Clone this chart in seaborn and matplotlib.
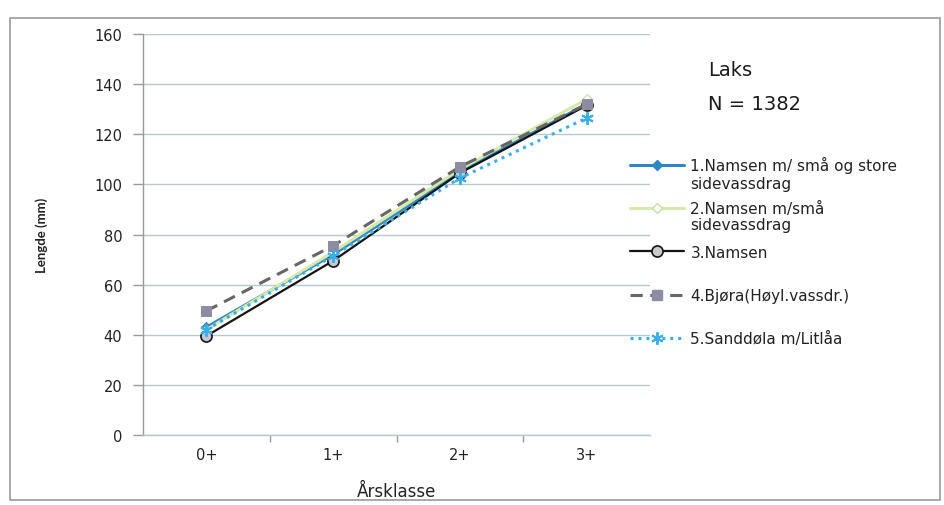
import matplotlib
matplotlib.use("Agg")
import matplotlib.pyplot as plt
from matplotlib.patches import Rectangle
from matplotlib.lines import Line2D
import seaborn as sns
import numpy as np

# Mean length (mm) of salmon by age class, per river section
classes = ["0+", "1+", "2+", "3+"]
namsen_sma_store = [43, 72, 105, 132]
namsen_sma = [42, 73, 106, 134]
namsen = [39.5, 69.5, 104.5, 131.5]
bjora = [49.5, 75.5, 107, 132]
sanddola = [42, 71.5, 102.5, 126.5]

series_names = [
    "1.Namsen m/ små og store",
    "2.Namsen m/små",
    "3.Namsen",
    "4.Bjøra(Høyl.vassdr.)",
    "5.Sanddøla m/Litlåa",
]
series_values = [namsen_sma_store, namsen_sma, namsen, bjora, sanddola]

sns.set_theme(style="white")
plt.rcParams["font.family"] = ["DejaVu Sans"]

fig = plt.figure(figsize=(9.44, 5.06), dpi=100)
ax = fig.add_axes([143 / 944, 1 - 436 / 506, 507 / 944, 401 / 506])

styles = [
    dict(color="#2f86c4", linestyle="-", linewidth=2.2, marker="D", markersize=5.5,
         markerfacecolor="#2f86c4", markeredgecolor="#2f86c4"),
    dict(color="#d6e9a8", linestyle="-", linewidth=2.2, marker="D", markersize=5.5,
         markerfacecolor="white", markeredgecolor="#c9dfa0"),
    dict(color="#141414", linestyle="-", linewidth=1.6, marker="o", markersize=8,
         markerfacecolor="#c8c8d0", markeredgecolor="#141414", markeredgewidth=1.2),
    dict(color="#666666", linestyle=(0, (4, 2.5)), linewidth=2.2, marker="s", markersize=7,
         markerfacecolor="#8c8ca4", markeredgecolor="#8c8ca4"),
    dict(color="#38aeea", linestyle=(0, (1, 1.6)), linewidth=2.2, marker=(6, 2, 0), markersize=9,
         markerfacecolor="#38aeea", markeredgecolor="#38aeea", markeredgewidth=1.4),
]

for name, vals, st in zip(series_names, series_values, styles):
    sns.lineplot(x=classes, y=vals, ax=ax, label=name, sort=False, **st)

ax.set_xlim(-0.5, 3.5)
ax.set_ylim(0, 160)
ax.set_yticks(np.arange(0, 161, 20))
ax.yaxis.grid(True, color="#b3c9cf", linewidth=1)
ax.xaxis.grid(False)

for side in ["top", "right"]:
    ax.spines[side].set_visible(False)
ax.spines["left"].set_color("#9a9a9a")
ax.spines["left"].set_linewidth(1)
ax.spines["bottom"].set_color("#b3c9cf")
ax.spines["bottom"].set_linewidth(1)

ax.tick_params(axis="y", which="major", left=True, length=7, width=1, color="#9a9a9a",
               pad=8, labelsize=10.5, labelcolor="#222222")
ax.set_xticks(range(len(classes)))
ax.set_xticklabels(classes)
ax.tick_params(axis="x", which="major", bottom=False, pad=3, labelsize=10.5, labelcolor="#222222")
ax.set_xticks([0.5, 1.5, 2.5], minor=True)
ax.tick_params(axis="x", which="minor", bottom=True, length=5, width=1, color="#9a9a9a")

ax.set_xlabel("Årsklasse", fontsize=12, color="#222222", labelpad=14)
ax.set_ylabel("Lengde (mm)", fontsize=9.5, fontweight="bold", family="Lato",
              color="#222222", labelpad=33)

# Legend to the right of the plot area
ax.get_legend().remove()
handles = [Line2D([0], [0], **st) for st in styles]
leg = fig.legend(handles, series_names, loc="upper left",
                 bbox_to_anchor=(624 / 944, 1 - 151 / 506), frameon=False,
                 prop={"family": "DejaVu Sans", "size": 11},
                 handlelength=3.5, handletextpad=0.45,
                 labelspacing=1.85, borderaxespad=0)
for t in leg.get_texts():
    t.set_color("#222222")

fig.text(690 / 944, 1 - 184 / 506, "sidevassdrag", fontsize=11, color="#222222", va="center")
fig.text(690 / 944, 1 - 226 / 506, "sidevassdrag", fontsize=11, color="#222222", va="center")

fig.text(708 / 944, 1 - 70 / 506, "Laks", fontsize=14, color="#1a1a1a", va="center")
fig.text(708 / 944, 1 - 104 / 506, "N = 1382", fontsize=14, color="#1a1a1a", va="center")

# Outer chart frame
fig.patches.append(Rectangle((10 / 944, 1 - 501 / 506), 930 / 944, 482 / 506,
                             transform=fig.transFigure, fill=False,
                             edgecolor="#9a9a9a", linewidth=1.2))

fig.savefig("out.png", dpi=100)
